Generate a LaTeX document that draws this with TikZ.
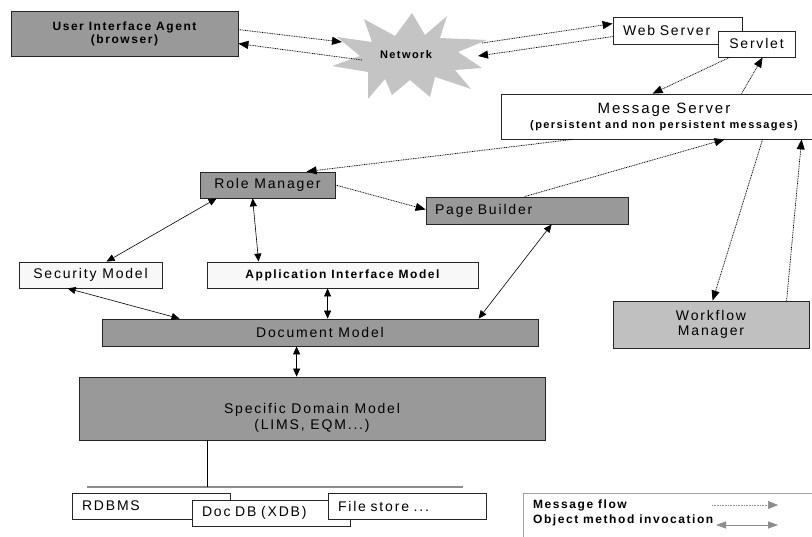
\documentclass[tikz,border=0pt]{standalone}
\usepackage{fontspec}
\setmainfont{Liberation Sans}
\newfontfamily\trk[LetterSpace=13]{Liberation Sans}
\usetikzlibrary{arrows.meta}

\definecolor{boxgray}{HTML}{999999}
\definecolor{wfgray}{HTML}{C0C0C0}
\definecolor{netgray}{HTML}{C4C4C4}
\definecolor{paper}{HTML}{F8F8F8}
\definecolor{keygray}{HTML}{8C8C8C}

\newcommand\regfont{\trk\fontsize{14}{16}\selectfont}
\newcommand\boldlab{\trk\bfseries\fontsize{12}{13}\selectfont}

\tikzset{
  box/.style={draw=black!85, line width=0.8pt, inner sep=0pt, align=center, font=\regfont},
  msg/.style={line width=0.75pt, dash pattern=on 0.9pt off 0.8pt, -{Triangle[length=10pt,width=8pt]}},
  call/.style={line width=0.6pt, {Triangle[length=8pt,width=7pt]}-{Triangle[length=8pt,width=7pt]}},
}

\begin{document}
\begin{tikzpicture}[x=1pt,y=-1pt]
\useasboundingbox (0,0) rectangle (812,537);
\clip (0,0) rectangle (812,537);

% network cloud
\fill[netgray] (447,16) -- (440,38) -- (487,40) -- (458,52) -- (482,68) -- (455,70)
  -- (471,89) -- (435,77) -- (430,97) -- (410,80) -- (392,95) -- (385,79) -- (368,99)
  -- (368,72) -- (332,66) -- (360,56) -- (337,37) -- (372,42) -- (364,19) -- (395,36)
  -- (412,13) -- (425,35) -- cycle;
\node[font=\trk\bfseries\fontsize{11}{12}\selectfont] (net) at (406,55) {Network};
\coordinate (netA) at (342,42);
\coordinate (netB) at (362,60);
\coordinate (netC) at (482,43);
\coordinate (netD) at (478,56);

% boxes
\node[box, fill=boxgray, minimum width=227pt, minimum height=45pt, font=\boldlab]
  (uia) at (124.5,33.5) {User Interface Agent\\(browser)};
\node[box, fill=white, minimum height=27pt, text width=109pt, inner xsep=10pt, align=left]
  (ws) at (677.5,30.5) {Web Server};
\node[box, fill=white, minimum width=77pt, minimum height=26pt]
  (servlet) at (756.5,44) {Servlet};
\node[box, fill=white, minimum width=326pt, minimum height=45pt]
  (ms) at (664,116.5) {{\trk\fontsize{15}{15}\selectfont Message Server}\\[-1pt]
  {\trk\bfseries\fontsize{11}{12}\selectfont (persistent and non persistent messages)}};
\node[box, fill=boxgray, minimum width=135pt, minimum height=26pt]
  (rm) at (267.5,185) {Role Manager};
\node[box, fill=boxgray, minimum height=27pt, text width=184pt, inner xsep=9pt, align=left]
  (pb) at (527,210.5) {Page Builder};
\node[box, fill=paper, minimum width=143pt, minimum height=26pt]
  (sec) at (90.5,275) {Security Model};
\node[box, fill=paper, minimum width=271pt, minimum height=26pt, font=\boldlab]
  (aim) at (342.5,275) {Application Interface Model};
\node[box, fill=boxgray, minimum width=436pt, minimum height=27pt]
  (dm) at (320,332.5) {Document Model};
\node[box, fill=wfgray, minimum width=196pt, minimum height=47pt]
  (wf) at (711,324.5) {Workflow\\[-1pt]Manager};
\node[box, fill=boxgray, minimum width=466pt, minimum height=63pt,
  label={[font=\regfont, align=center, yshift=-9pt]center:Specific Domain Model\\[0pt](LIMS, EQM...)}]
  (sdm) at (312,408.5) {};

% storage back ends
\node[box, fill=white, minimum height=26pt, text width=138pt, inner xsep=10pt, align=left]
  (rdb) at (151,506) {RDBMS};
\node[box, fill=white, minimum height=26pt, text width=138pt, inner xsep=10pt, align=left]
  (docdb) at (271,513) {Doc DB (XDB)};
\node[box, fill=white, minimum height=26pt, text width=138pt, inner xsep=10pt, align=left]
  (file) at (407,506) {File store ...};

% storage bus
\coordinate (busL) at (87,487);
\coordinate (busR) at (463,487);
\draw[keygray, line width=1.3pt] (busL) -- (busR);
\draw[line width=0.6pt] ([xshift=129pt]sdm.south west) -- ([xshift=129pt]sdm.south west |- busL);

% message flows
\draw[msg] ([yshift=-19pt]uia.north east) -- (netA);
\draw[msg] (netB) -- ([yshift=-33pt]uia.north east);
\draw[msg] (netC) -- ([yshift=-7pt]ws.north west);
\draw[msg] ([yshift=-20pt]ws.north west) -- (netD);
\draw[msg] ([xshift=12pt]servlet.south west) -- ([xshift=152pt]ms.north west);
\draw[msg] ([xshift=241pt]ms.north west) -- ([xshift=45pt]servlet.south west);
\draw[msg] ([xshift=72pt]ms.south west) -- ([xshift=107pt]rm.north west);
\draw[msg] (rm.east) -- ([yshift=1pt]pb.west);
\draw[msg] ([xshift=99pt]pb.north west) -- ([xshift=224pt]ms.south west);
\draw[msg] ([xshift=262pt]ms.south west) -- ([xshift=100pt]wf.north west);
\draw[msg] ([xshift=174pt]wf.north west) -- ([xshift=301pt]ms.south west);

% method invocations
\draw[call] ([xshift=17pt]rm.south west) -- ([xshift=88pt]sec.north west);
\draw[call] ([xshift=53pt]rm.south west) -- ([xshift=52pt]aim.north west);
\draw[call] ([xshift=49pt]sec.south west) -- ([xshift=78pt]dm.north west);
\draw[call] ([xshift=121pt]aim.south west) -- ([xshift=226pt]dm.north west);
\draw[call] ([xshift=126pt]pb.south west) -- ([xshift=377pt]dm.north west);
\draw[call] ([xshift=195pt]dm.south west) -- ([xshift=218pt]sdm.north west);

% key
\draw[keygray!80, line width=0.8pt] (523,540) -- (523,493) -- (815,493);
\node[anchor=base west, font=\boldlab, inner sep=0pt] (keymsg) at (533,508) {Message flow};
\node[anchor=base west, font=\boldlab, inner sep=0pt] (keycall) at (533,523) {Object method invocation};
\coordinate (kmA) at (712,505);
\coordinate (kmB) at (778,505);
\coordinate (kcA) at (716,525);
\coordinate (kcB) at (778,525);
\draw[keygray, line width=0.6pt, dash pattern=on 0.7pt off 0.9pt, -{Triangle[length=10pt,width=8pt]}] (kmA) -- (kmB);
\draw[keygray, line width=0.8pt, {Triangle[length=10pt,width=7pt]}-{Triangle[length=10pt,width=7pt]}] (kcA) -- (kcB);
\end{tikzpicture}
\end{document}
